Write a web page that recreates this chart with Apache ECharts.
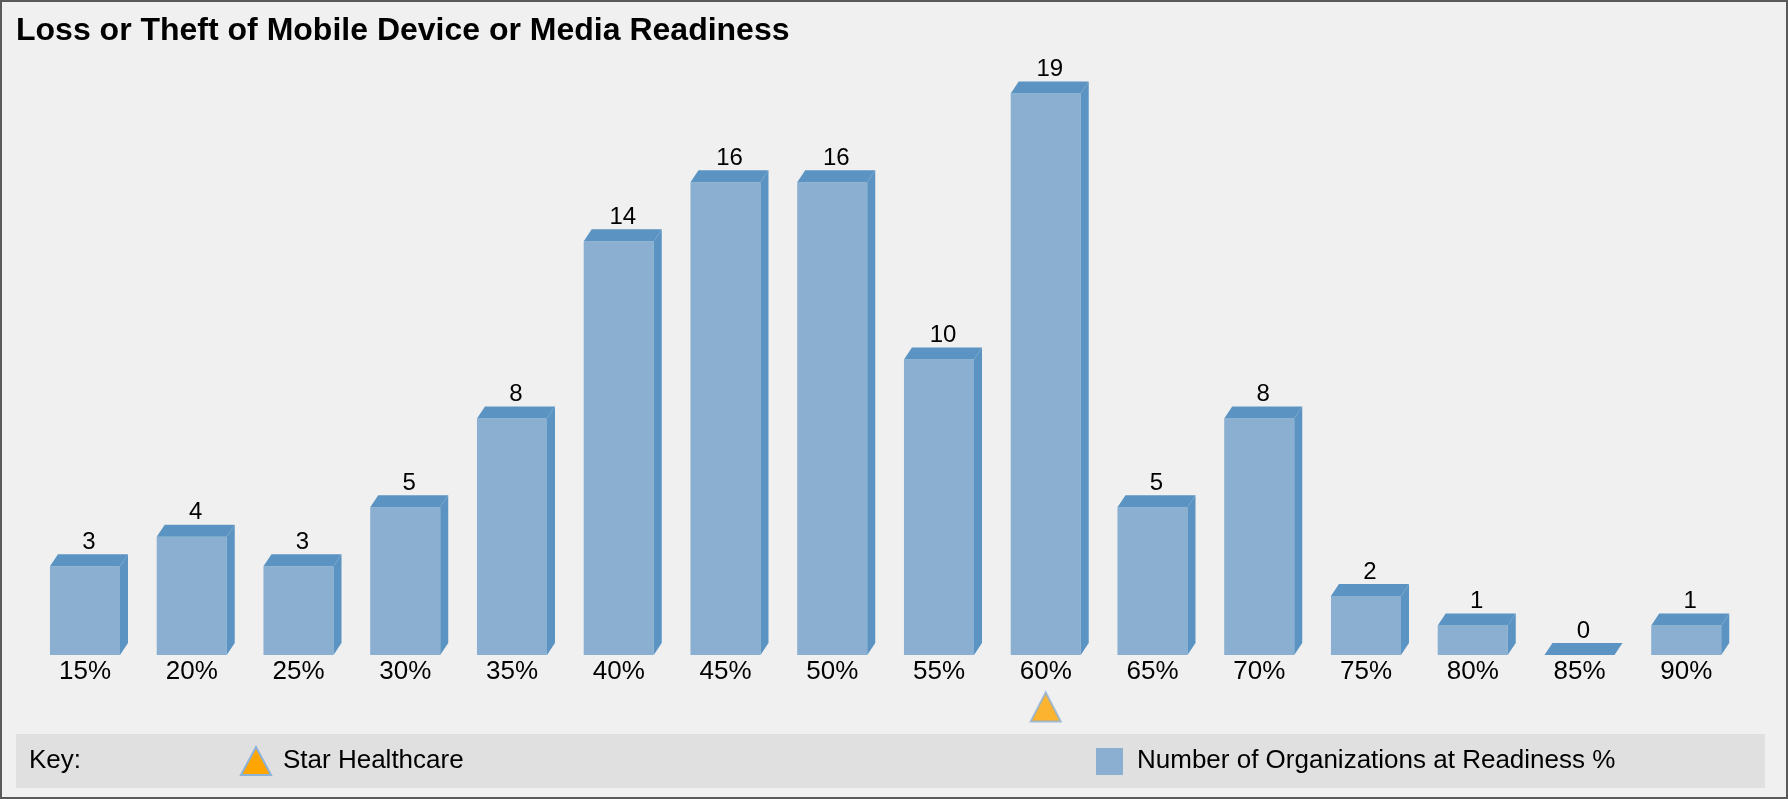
<!DOCTYPE html>
<html>
<head>
<meta charset="utf-8">
<title>Loss or Theft of Mobile Device or Media Readiness</title>
<script src="https://cdn.jsdelivr.net/npm/echarts@6/dist/echarts.min.js"></script>
<style>
  html, body { margin: 0; padding: 0; background: #f0f0f0; }
  #chart { width: 1788px; height: 799px; }
</style>
</head>
<body>
<div id="chart"></div>
<script>
// Readiness buckets and how many organizations fall in each one
const categories = ['15%', '20%', '25%', '30%', '35%', '40%', '45%', '50%',
                    '55%', '60%', '65%', '70%', '75%', '80%', '85%', '90%'];
const counts = [3, 4, 3, 5, 8, 14, 16, 16, 10, 19, 5, 8, 2, 1, 0, 1];
// Readiness bucket of the highlighted organization
const starHealthcare = '60%';

const FONT = "'Liberation Sans', Arial, Helvetica, sans-serif";
const FRONT = '#8aafd1';
const TOP = '#5b94c2';
const SIDE = '#5b94c2';
const DX = 8, DY = 12;   // depth offset of the extruded bars

function renderBar(params, api) {
  const idx = api.value(0);
  const val = api.value(1);
  const top = api.coord([idx, val]);
  const base = api.coord([idx, 0]);
  const w = api.size([1, 0])[0] * 0.656;
  const x0 = top[0] - w / 2, x1 = top[0] + w / 2;
  const yt = top[1], yb = base[1];
  const children = [];
  if (yb - yt > 0.5) {
    children.push({
      type: 'rect',
      shape: { x: x0, y: yt, width: w, height: yb - yt },
      style: { fill: FRONT }
    });
    children.push({
      type: 'polygon',
      shape: { points: [[x1, yt], [x1 + DX, yt - DY], [x1 + DX, yb - DY], [x1, yb]] },
      style: { fill: SIDE }
    });
  }
  children.push({
    type: 'polygon',
    shape: { points: [[x0, yt], [x1, yt], [x1 + DX, yt - DY], [x0 + DX, yt - DY]] },
    style: { fill: TOP }
  });
  children.push({
    type: 'text',
    style: {
      text: String(val),
      x: top[0] + DX / 2,
      y: yt - DY - 12,
      align: 'center',
      verticalAlign: 'middle',
      fill: '#000',
      font: '24px ' + FONT
    }
  });
  return { type: 'group', children: children };
}

const chart = echarts.init(document.getElementById('chart'), null, { renderer: 'canvas' });

chart.setOption({
  backgroundColor: '#f0f0f0',
  animation: false,
  title: {
    text: 'Loss or Theft of Mobile Device or Media Readiness',
    left: 16,
    top: 15,
    padding: 0,
    textStyle: { fontFamily: FONT, fontSize: 32, fontWeight: 'bold', color: '#000' }
  },
  grid: { left: 31.6, right: 48.4, top: 64, bottom: 144, containLabel: false },
  xAxis: {
    type: 'category',
    data: categories,
    boundaryGap: true,
    axisLine: { show: false },
    axisTick: { show: false },
    splitLine: { show: false },
    axisLabel: { fontFamily: FONT, fontSize: 26, color: '#000', margin: 4 }
  },
  yAxis: {
    type: 'value',
    min: 0,
    max: 20,
    show: false
  },
  series: [
    {
      name: 'Number of Organizations at Readiness %',
      type: 'custom',
      renderItem: renderBar,
      encode: { x: 0, y: 1 },
      data: counts.map((v, i) => [categories[i], v]),
      clip: false
    },
    {
      name: 'Star Healthcare',
      type: 'scatter',
      data: [[starHealthcare, 0]],
      symbol: 'triangle',
      symbolSize: [30, 29],
      symbolOffset: [0, 52],
      itemStyle: { color: '#ffa500', borderColor: '#8db2d6', borderWidth: 2 },
      clip: false,
      z: 5
    }
  ],
  graphic: [
    {
      type: 'rect',
      shape: { x: 1, y: 1, width: 1786, height: 797 },
      style: { fill: 'none', stroke: '#5a5a5a', lineWidth: 2 },
      silent: true
    },
    {
      type: 'rect',
      shape: { x: 16, y: 734, width: 1749, height: 54 },
      style: { fill: '#e0e0e0' },
      silent: true
    },
    {
      type: 'text',
      style: { text: 'Key:', x: 29, y: 761, verticalAlign: 'middle', fill: '#000', font: '26px ' + FONT }
    },
    {
      type: 'polygon',
      shape: { points: [[241, 775], [256, 747], [271, 775]] },
      style: { fill: '#ffa500', stroke: '#8db2d6', lineWidth: 2 }
    },
    {
      type: 'text',
      style: { text: 'Star Healthcare', x: 283, y: 761, verticalAlign: 'middle', fill: '#000', font: '26px ' + FONT }
    },
    {
      type: 'rect',
      shape: { x: 1096, y: 748, width: 27, height: 27 },
      style: { fill: FRONT }
    },
    {
      type: 'text',
      style: { text: 'Number of Organizations at Readiness %', x: 1137, y: 761, verticalAlign: 'middle', fill: '#000', font: '26px ' + FONT }
    }
  ]
});
</script>
</body>
</html>
